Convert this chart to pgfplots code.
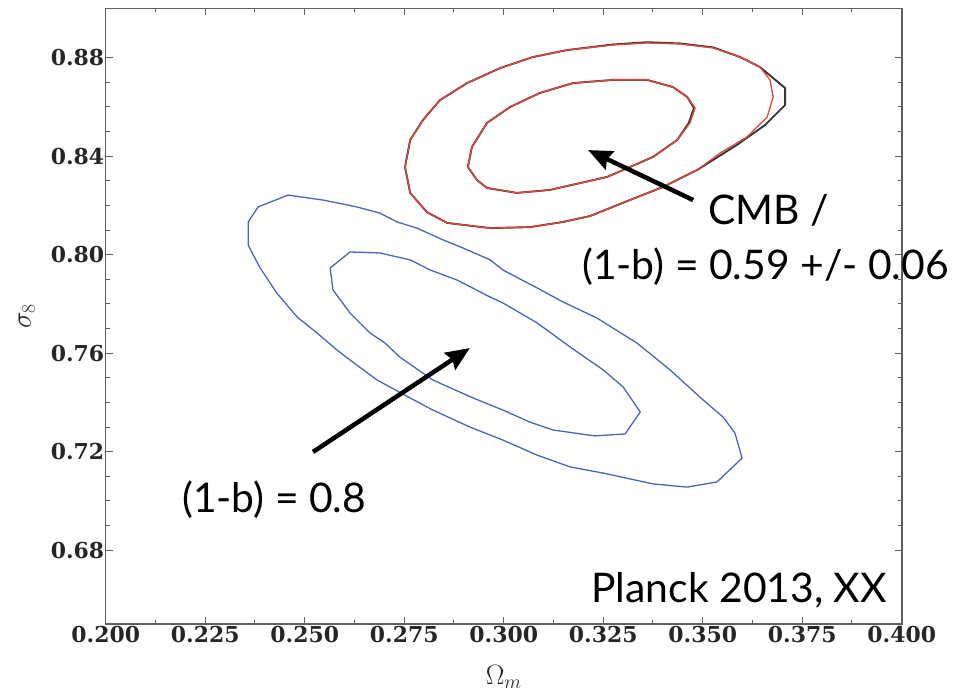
\RequirePackage{fix-cm}
\documentclass[border=0pt]{standalone}
\usepackage{fontspec}
\usepackage{pgfplots}
\pgfplotsset{compat=1.18}
\usetikzlibrary{arrows.meta}
\newfontfamily\annfont{Lato}
\newfontfamily\tickfont{DejaVu Serif}
\definecolor{cblue}{RGB}{76,100,186}
\definecolor{cred}{RGB}{226,72,58}
\definecolor{cdark}{RGB}{55,55,55}
\definecolor{frame}{RGB}{95,95,95}
\begin{document}
\begin{tikzpicture}
\begin{axis}[
  scale only axis, width=796bp, height=615.5bp,
  xmin=0.2, xmax=0.4, ymin=0.65, ymax=0.90,
  xtick={0.2,0.225,0.25,0.275,0.3,0.325,0.35,0.375,0.4},
  ytick={0.68,0.72,0.76,0.80,0.84,0.88},
  xticklabels={0.200,0.225,0.250,0.275,0.300,0.325,0.350,0.375,0.400},
  yticklabels={0.68,0.72,0.76,0.80,0.84,0.88},
  minor x tick num=1, minor y tick num=3,
  tick pos=both, tick align=inside,
  major tick length=7bp, minor tick length=4bp,
  every tick/.style={frame, line width=1bp},
  axis line style={frame, line width=1.6bp},
  every tick label/.append style={font=\tickfont\bfseries\fontsize{22}{26}\selectfont, text=black!85},
  xticklabel style={yshift=1bp},
  yticklabel style={xshift=2bp},
  xlabel={$\Omega_m$}, ylabel={$\sigma_8$},
  every axis label/.append style={font=\fontsize{28}{33}\selectfont, text=black!85},
  xlabel style={at={(axis description cs:0.5,-0.0861)}, anchor=center},
  ylabel style={at={(axis description cs:-0.0992,0.5)}, anchor=center},
  clip=false,
]
% blue outer
\addplot[cblue, line width=1.3bp, line join=round] coordinates {
(0.2458,0.8242) (0.2546,0.8222) (0.2631,0.8194) (0.2689,0.8169) (0.2732,0.8133)
(0.2782,0.8108) (0.2848,0.8060) (0.2898,0.8027) (0.2966,0.7979) (0.2998,0.7938)
(0.3084,0.7865) (0.3149,0.7808) (0.3234,0.7743) (0.3335,0.7641) (0.3418,0.7532)
(0.3501,0.7410) (0.3551,0.7341) (0.3581,0.7276) (0.3599,0.7174) (0.3536,0.7077)
(0.3461,0.7056) (0.3375,0.7069) (0.3250,0.7113) (0.3167,0.7138) (0.3084,0.7186)
(0.2998,0.7247) (0.2915,0.7300) (0.2822,0.7369) (0.2765,0.7418) (0.2682,0.7491)
(0.2614,0.7572) (0.2581,0.7613) (0.2531,0.7682) (0.2481,0.7747) (0.2430,0.7844)
(0.2388,0.7946) (0.2358,0.8039) (0.2358,0.8133) (0.2383,0.8194) (0.2458,0.8242)};
% blue inner
\addplot[cblue, line width=1.3bp, line join=round] coordinates {
(0.2614,0.8011) (0.2689,0.8007) (0.2765,0.7979) (0.2815,0.7938) (0.2883,0.7897)
(0.2966,0.7828) (0.2998,0.7804) (0.3084,0.7723) (0.3167,0.7625) (0.3250,0.7532)
(0.3300,0.7463) (0.3343,0.7361) (0.3305,0.7272) (0.3229,0.7264) (0.3124,0.7288)
(0.3066,0.7320) (0.2998,0.7369) (0.2923,0.7418) (0.2822,0.7491) (0.2739,0.7584)
(0.2702,0.7641) (0.2664,0.7682) (0.2614,0.7763) (0.2571,0.7857) (0.2564,0.7946)
(0.2614,0.8011)};
% black outer
\addplot[cdark, line width=1.9bp, line join=round] coordinates {
(0.2752,0.8356) (0.2765,0.8466) (0.2797,0.8547) (0.2840,0.8628) (0.2908,0.8697)
(0.2991,0.8758) (0.3074,0.8803) (0.3159,0.8831) (0.3275,0.8854) (0.3360,0.8863)
(0.3443,0.8858) (0.3526,0.8842) (0.3594,0.8803) (0.3644,0.8762) (0.3707,0.8677)
(0.3707,0.8608) (0.3657,0.8527) (0.3586,0.8446) (0.3486,0.8344) (0.3400,0.8275)
(0.3317,0.8222) (0.3217,0.8157) (0.3149,0.8133) (0.3066,0.8112) (0.2966,0.8108)
(0.2858,0.8129) (0.2807,0.8173) (0.2765,0.8251) (0.2752,0.8356)};
% black inner
\addplot[cdark, line width=1.9bp, line join=round] coordinates {
(0.2910,0.8356) (0.2920,0.8437) (0.2958,0.8535) (0.3016,0.8600) (0.3091,0.8657)
(0.3174,0.8697) (0.3275,0.8710) (0.3360,0.8710) (0.3425,0.8681) (0.3461,0.8641)
(0.3478,0.8596) (0.3465,0.8535) (0.3436,0.8466) (0.3375,0.8397) (0.3317,0.8356)
(0.3260,0.8316) (0.3192,0.8291) (0.3116,0.8263) (0.3033,0.8251) (0.2958,0.8271)
(0.2933,0.8303) (0.2910,0.8356)};
% red outer
\addplot[cred, line width=1.3bp, line join=round] coordinates {
(0.2752,0.8356) (0.2765,0.8466) (0.2797,0.8547) (0.2840,0.8628) (0.2908,0.8697)
(0.2991,0.8758) (0.3074,0.8803) (0.3159,0.8831) (0.3275,0.8852) (0.3360,0.8860)
(0.3443,0.8856) (0.3526,0.8840) (0.3594,0.8803) (0.3644,0.8762) (0.3669,0.8710)
(0.3677,0.8641) (0.3662,0.8559) (0.3611,0.8478) (0.3544,0.8413) (0.3486,0.8344)
(0.3400,0.8275) (0.3317,0.8222) (0.3217,0.8157) (0.3149,0.8133) (0.3066,0.8112)
(0.2966,0.8108) (0.2858,0.8129) (0.2807,0.8173) (0.2765,0.8251) (0.2752,0.8356)};
% red inner
\addplot[cred, line width=1.3bp, line join=round] coordinates {
(0.2910,0.8356) (0.2920,0.8437) (0.2958,0.8535) (0.3016,0.8600) (0.3091,0.8657)
(0.3174,0.8697) (0.3275,0.8710) (0.3360,0.8710) (0.3425,0.8681) (0.3461,0.8641)
(0.3481,0.8596) (0.3468,0.8535) (0.3436,0.8466) (0.3375,0.8397) (0.3317,0.8356)
(0.3260,0.8316) (0.3192,0.8291) (0.3116,0.8263) (0.3033,0.8251) (0.2958,0.8271)
(0.2933,0.8303) (0.2910,0.8356)};
% arrows
\draw[line width=4.5bp, -{Stealth[length=24bp,width=20bp,inset=3bp]}] (axis cs:0.3476,0.8222) -- (axis cs:0.3212,0.8425);
\draw[line width=4.5bp, -{Stealth[length=24bp,width=20bp,inset=3bp]}] (axis cs:0.2521,0.7199) -- (axis cs:0.2915,0.7621);
\end{axis}
\node[anchor=west, inner sep=0, font=\annfont\fontsize{41}{46}\selectfont] at (602.3bp,414bp) {CMB /};
\node[anchor=west, inner sep=0, font=\annfont\fontsize{41}{46}\selectfont] at (476.3bp,357bp) {(1-b) = 0.59 +/- 0.06};
\node[anchor=west, inner sep=0, font=\annfont\fontsize{41}{46}\selectfont] at (76.3bp,124bp) {(1-b) = 0.8};
\node[anchor=east, inner sep=0, font=\annfont\fontsize{41}{46}\selectfont] at (781.3bp,34bp) {Planck 2013, XX};
\pgfresetboundingbox
\path[use as bounding box] (-105.7bp,-70bp) rectangle (858.3bp,624bp);
\end{tikzpicture}
\end{document}
